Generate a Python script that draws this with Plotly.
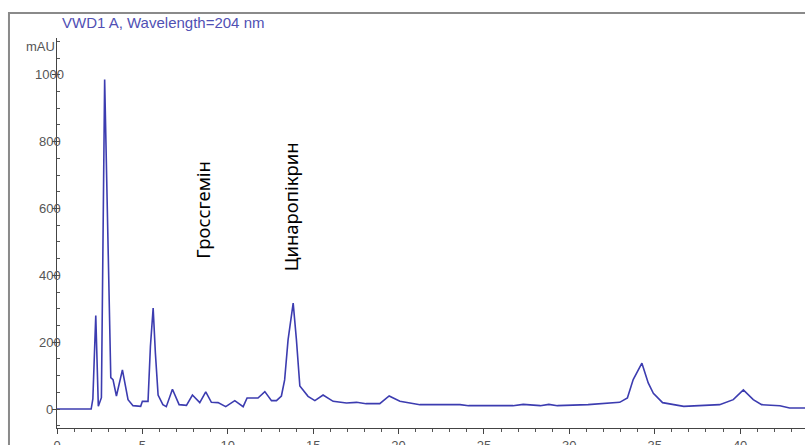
import plotly.graph_objects as go

# Retention time (min) and detector response (mAU)
time_min = [0, 2.0, 2.1, 2.27, 2.42, 2.6, 2.79, 3.1, 3.15, 3.28, 3.48, 3.83, 4.16, 4.45, 4.9, 5.0,
            5.33, 5.47, 5.63, 5.76, 5.92, 6.2, 6.4, 6.76, 7.15, 7.58, 7.93, 8.36, 8.71, 9.04, 9.43,
            9.88, 10.41, 10.9, 11.13, 11.77, 12.17, 12.56, 12.85, 13.14, 13.33, 13.53, 13.83, 14.02,
            14.15, 14.22, 14.7, 15.1, 15.58, 16.17, 16.95, 17.54, 18.1, 18.9, 19.45, 20.08, 21.25,
            23.6, 24.1, 26.7, 27.3, 28.3, 28.8, 29.3, 31.1, 32.3, 32.95, 33.4, 33.74, 34.25, 34.62,
            34.92, 35.46, 36.7, 38.8, 39.6, 40.19, 40.77, 41.26, 42.33, 42.9, 43.8]
signal_mau = [0, 0, 30, 280, 8, 34, 986, 120, 94, 88, 39, 117, 28, 10, 8, 23,
              23, 187, 302, 168, 42, 13, 7, 59, 13, 11, 42, 19, 51, 20, 19,
              7, 25, 7, 33, 33, 52, 25, 25, 39, 87, 207, 317, 207,
              97, 69, 38, 25, 42, 23, 18, 20, 16, 16, 39, 23, 13,
              13, 10, 10, 14, 10, 14, 10, 13, 18, 20, 33, 88, 137, 78,
              47, 19, 8, 13, 28, 57, 28, 13, 10, 3, 3]

y_tick_values = [0, 200, 400, 600, 800, 1000]
y_tick_labels = ["0", "200", "400", "600", "800", "1000"]
x_tick_values = [0, 5, 10, 15, 20, 25, 30, 35, 40]
x_tick_labels = ["0", "5", "10", "15", "20", "25", "30", "35", "40"]

peak_labels = ["Гроссгемін", "Цинаропікрин"]
peak_label_x = [8.54, 13.69]
peak_label_y = [596, 606]

title_text = "VWD1 A, Wavelength=204 nm"
y_unit = "mAU"

fig = go.Figure()
fig.add_trace(go.Scatter(x=time_min, y=signal_mau, mode="lines",
                         line=dict(color="#3c3cb0", width=1.6),
                         hoverinfo="skip", showlegend=False))

axis_font = dict(family="Liberation Sans, Arial, sans-serif", size=13, color="#555555")

fig.update_layout(
    width=805, height=445,
    margin=dict(l=57, r=0, t=38, b=17, autoexpand=False),
    paper_bgcolor="white", plot_bgcolor="white",
    showlegend=False,
    xaxis=dict(range=[0, 43.8], showgrid=False, zeroline=False, automargin=False,
               showline=True, linecolor="#444444", linewidth=1,
               tickmode="array", tickvals=x_tick_values, ticktext=x_tick_labels,
               ticks="outside", ticklen=5, tickcolor="#444444",
               tickfont=axis_font,
               minor=dict(dtick=1, ticks="outside", ticklen=3, tickcolor="#555555")),
    yaxis=dict(range=[-56.8, 1110], showgrid=False, zeroline=False, automargin=False,
               showline=True, linecolor="#444444", linewidth=1,
               tickmode="array", tickvals=y_tick_values, ticktext=y_tick_labels,
               showticklabels=False,
               ticks="outside", ticklen=4, tickcolor="#444444",
               minor=dict(dtick=50, ticks="inside", ticklen=3, tickcolor="#555555")),
)

annotations = []
for v, lab in zip(y_tick_values, y_tick_labels):
    annotations.append(dict(xref="paper", yref="y", x=-0.0094, y=v, text=lab,
                            showarrow=False, xanchor="center", yanchor="middle",
                            font=axis_font))
annotations.append(dict(xref="paper", yref="paper", x=0.0, y=0.977, text=y_unit,
                        showarrow=False, xanchor="right", yanchor="middle",
                        font=axis_font))
annotations.append(dict(xref="paper", yref="paper", x=0.004, y=1.039, text=title_text,
                        showarrow=False, xanchor="left", yanchor="middle",
                        font=dict(family="Liberation Sans, Arial, sans-serif", size=15,
                                  color="#5050b4")))
for lab, lx, ly in zip(peak_labels, peak_label_x, peak_label_y):
    annotations.append(dict(xref="x", yref="y", x=lx, y=ly, text=lab, textangle=-90,
                            showarrow=False, xanchor="center", yanchor="middle",
                            font=dict(family="Noto Sans, sans-serif", size=18.5, color="black")))
fig.update_layout(annotations=annotations)

fig.add_shape(type="rect", xref="paper", yref="paper",
              x0=-0.0642, x1=1.05, y0=-0.2, y1=1.064,
              line=dict(color="#8a8a8a", width=2), fillcolor="rgba(0,0,0,0)", layer="below")

fig.write_html("out.html")
